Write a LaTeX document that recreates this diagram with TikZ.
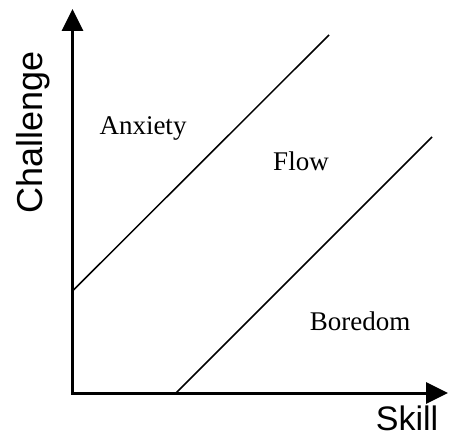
\documentclass[tikz,border=0pt]{standalone}
\usepackage{fontspec}
\setmainfont{Liberation Serif}
\newfontfamily\axisfont{Liberation Sans}
\usetikzlibrary{arrows.meta}
\begin{document}
\begin{tikzpicture}[x=1pt,y=-1pt,
  axisline/.style={line width=3pt,-{Triangle[width=21pt,length=22pt]}},
  zoneline/.style={line width=1.5pt},
  zonelabel/.style={anchor=base,inner sep=0pt,font=\fontsize{27}{31}\selectfont},
  axislabel/.style={anchor=base,inner sep=0pt,font=\axisfont\fontsize{34}{40}\selectfont}]
\useasboundingbox (0,0) rectangle (449,436);
\coordinate (o) at (72.5,393);
\coordinate (ytip) at (72.5,9);
\coordinate (xtip) at (448,393);
\coordinate (a1) at (72.5,291);
\coordinate (a2) at (329,35);
\coordinate (b1) at (176,393);
\coordinate (b2) at (432,137);
\draw[zoneline] (a1) -- (a2);
\draw[zoneline] (b1) -- (b2);
\draw[axisline] ([yshift=1.5pt]o) -- (ytip);
\draw[axisline] ([xshift=-1.5pt]o) -- (xtip);
\node[zonelabel] (anx) at (143,134) {Anxiety};
\node[zonelabel] (flow) at (301,170) {Flow};
\node[zonelabel] (bor) at (360,330) {Boredom};
\node[axislabel] (skill) at (407,430) {Skill};
\node[axislabel,rotate=90,font=\axisfont\fontsize{36}{42}\selectfont] (chal) at (42,132) {Challenge};
\end{tikzpicture}
\end{document}
